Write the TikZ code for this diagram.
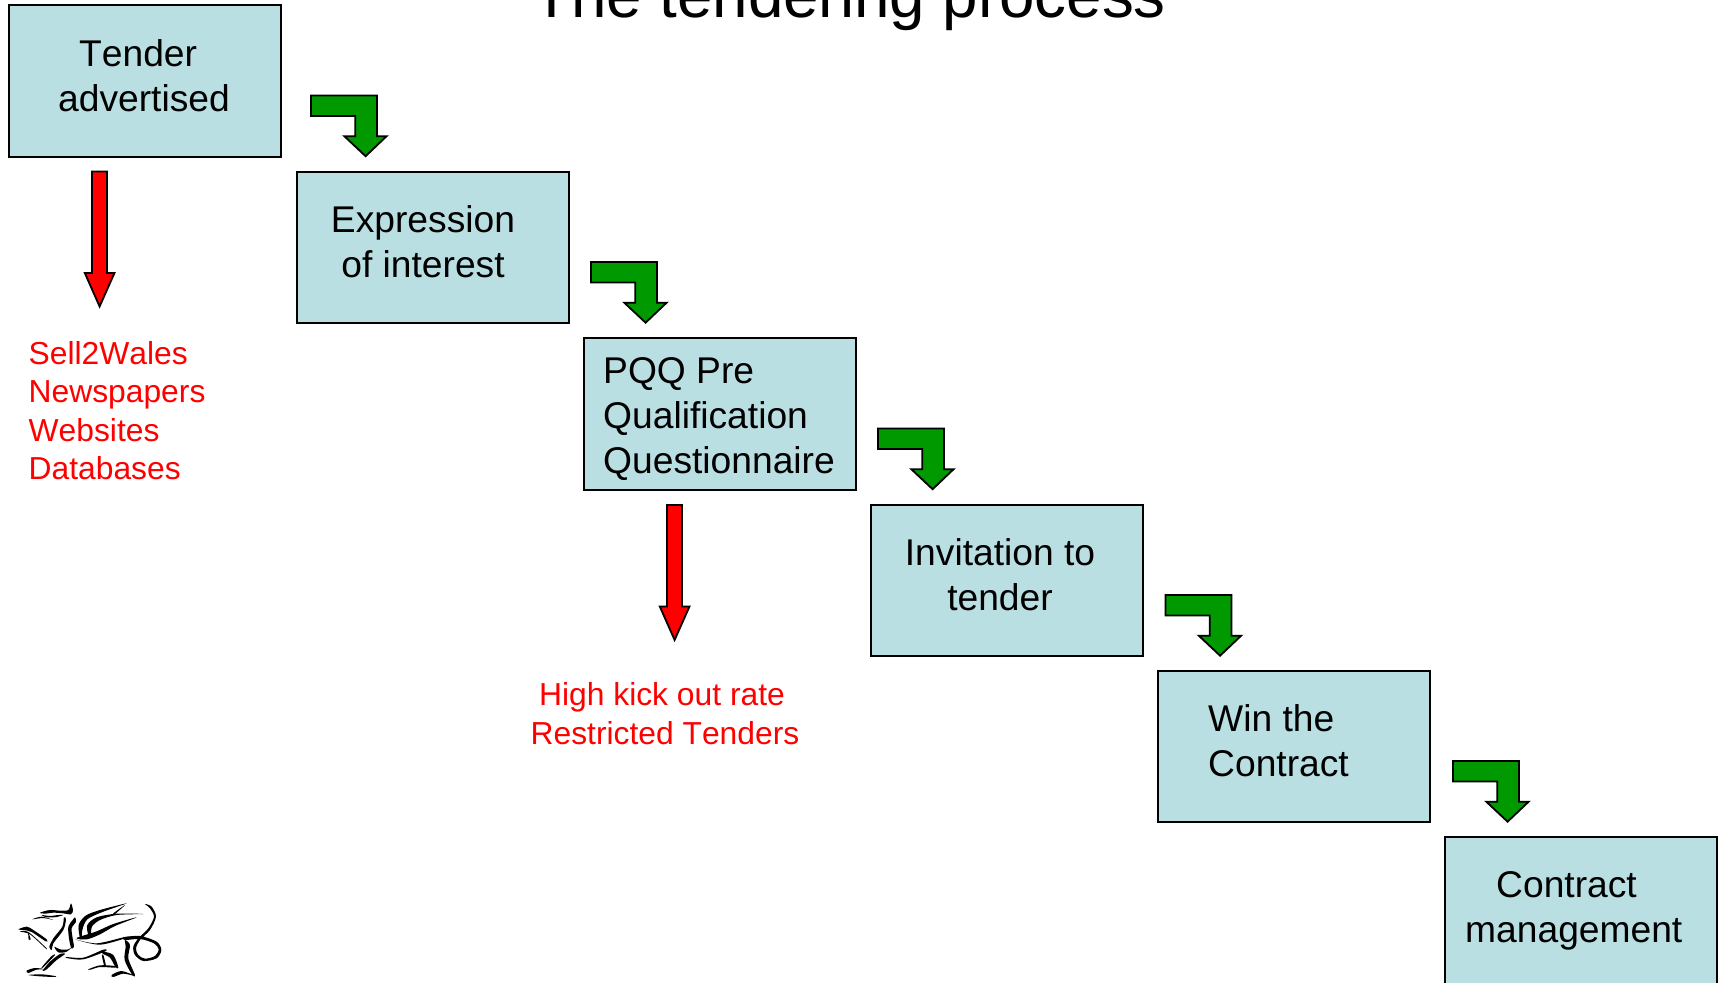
\documentclass[tikz,border=0pt]{standalone}
\usepackage{fontspec}
\setmainfont[Kerning=Off]{Liberation Sans}
\definecolor{boxfill}{HTML}{B9DFE3}
\definecolor{arrowgreen}{HTML}{009900}
\definecolor{alertred}{HTML}{FF0000}
\tikzset{
  stagebox/.style={draw=black,line width=2pt,fill=boxfill,anchor=north west,minimum width=272pt,minimum height=151.5pt,inner sep=0pt,outer sep=0pt},
  stagetext/.style={font=\fontsize{37.2}{44.6}\selectfont,text=black,inner sep=0pt,anchor=base west},
  alerttext/.style={font=\fontsize{31.8}{38.4}\selectfont,text=alertred,inner sep=0pt,anchor=base west},
  ink/.style={fill=black,draw=none},
  greenarrow/.pic={\draw[draw=black,line width=1.8pt,fill=arrowgreen,line join=miter]
    (0,0)--(66,0)--(66,40.7)--(75.6,40.7)--(54.6,60.7)--(33.3,40.7)--(44.3,40.7)--(44.3,20.4)--(0,20.4)--cycle;},
  redarrow/.pic={\draw[draw=black,line width=1.8pt,fill=alertred,line join=miter]
    (0,0)--(15,0)--(15,101.5)--(22.5,101.5)--(7.6,135)--(-7.2,101.5)--(0,101.5)--cycle;}
}
\newcommand{\inkshape}[1]{\fill[ink] plot[smooth cycle] coordinates {#1};}
\begin{document}
\begin{tikzpicture}[x=1pt,y=-1pt]
\useasboundingbox (0,0) rectangle (1723,982);
% title
\node[font=\fontsize{63.7}{70}\selectfont,inner sep=0pt,anchor=base] (title) at (849,18) {The tendering process};
% stages
\node[stagebox] (b1) at (9,5.5) {};
\node[stagebox] (b2) at (296.5,171.5) {};
\node[stagebox] (b3) at (583.5,338) {};
\node[stagebox] (b4) at (870.5,504.5) {};
\node[stagebox] (b5) at (1158,670.5) {};
\node[stagebox] (b6) at (1445,837) {};
% stage labels
\node[stagetext,align=left] (t1) at (58,111) {\hspace*{21pt}Tender\\advertised};
\node[stagetext,align=center,anchor=base] (t2) at (423,277) {Expression\\of interest};
\node[stagetext,align=left] (t3) at (603,473) {PQQ Pre\\Qualification\\Questionnaire};
\node[stagetext,align=center,anchor=base] (t4) at (1000,610) {Invitation to\\tender};
\node[stagetext,align=left] (t5) at (1208,776) {Win the\\Contract};
\node[stagetext,align=left] (t6) at (1465,942) {\hspace*{31pt}Contract\\management};
% green arrows
\pic at (311,95.5) {greenarrow};
\pic at (591,262) {greenarrow};
\pic at (878,428.5) {greenarrow};
\pic at (1165.5,595) {greenarrow};
\pic at (1453,761) {greenarrow};
% red arrows
\pic at (92,171.5) {redarrow};
\pic at (667,505) {redarrow};
% red notes
\node[alerttext,align=left] (n1) at (28.5,479.5) {Sell2Wales\\Newspapers\\Websites\\Databases};
\node[alerttext,align=center,anchor=base] (n2) at (665,744) {High kick out rate\hspace*{6pt}\\Restricted Tenders};
% dragon
\begin{scope}[shift={(0,880)},scale=0.3333]
\inkshape{(120,98)(150,90)(180,92)(205,90)(213,70)(219,92)(212,103)(190,100)(160,98)(135,101)}
\inkshape{(125,105)(150,108)(175,105)(190,105)(170,111)(140,112)}
\inkshape{(97,118)(125,110)(160,120)(130,114)}
\inkshape{(192,112)(187,140)(160,175)(148,200)(155,210)(160,190)(190,150)(198,118)}
\inkshape{(225,112)(228,125)(215,145)(218,175)(222,200)(214,205)(207,175)(205,140)(218,120)}
\inkshape{(163,200)(175,217)(200,215)(222,195)(205,208)(180,208)}
\inkshape{(55,148)(80,140)(100,150)(140,178)(137,184)(95,156)(70,150)}
\inkshape{(60,155)(85,156)(135,200)(138,206)(90,163)}
\inkshape{(85,158)(92,178)(86,178)}
\inkshape{(195,222)(170,240)(140,268)(128,272)(150,245)(180,222)}
\inkshape{(165,225)(130,262)(125,262)(155,228)}
\inkshape{(80,272)(105,264)(135,268)(110,269)(85,279)}
\inkshape{(85,285)(125,283)(165,288)(165,291)(120,289)}
\inkshape{(198,231)(250,233)(310,209)(316,214)(250,238)(205,235)}
\inkshape{(240,175)(236,135)(257,107)(300,90)(380,70)(310,95)(262,118)(247,150)(245,175)}
\inkshape{(265,165)(262,135)(290,112)(350,101)(430,102)(350,105)(300,120)(276,140)(272,168)}
\inkshape{(230,174)(290,154)(340,132)(410,112)(345,138)(298,164)(260,178)}
\inkshape{(340,100)(375,75)(345,102)}
\inkshape{(225,178)(290,190)(370,172)(385,172)(300,194)}
\inkshape{(370,172)(420,168)(470,185)(484,210)(470,235)(430,243)(405,225)(400,200)(415,175)(445,145)(462,110)(450,85)(435,72)(455,80)(468,110)(450,150)(420,180)(408,205)(415,225)(435,236)(465,228)(476,208)(462,190)(420,177)(375,180)}
\inkshape{(375,180)(390,195)(385,235)(405,285)(397,285)(374,240)(377,200)}
\inkshape{(335,285)(365,273)(405,288)(370,281)(340,291)}
\inkshape{(310,215)(340,225)(355,262)(347,262)(330,233)(308,221)}
\inkshape{(265,268)(300,256)(345,258)(345,263)(300,261)(272,269)}
\inkshape{(310,225)(318,258)(313,258)(306,228)}
\end{scope}
\end{tikzpicture}
\end{document}
